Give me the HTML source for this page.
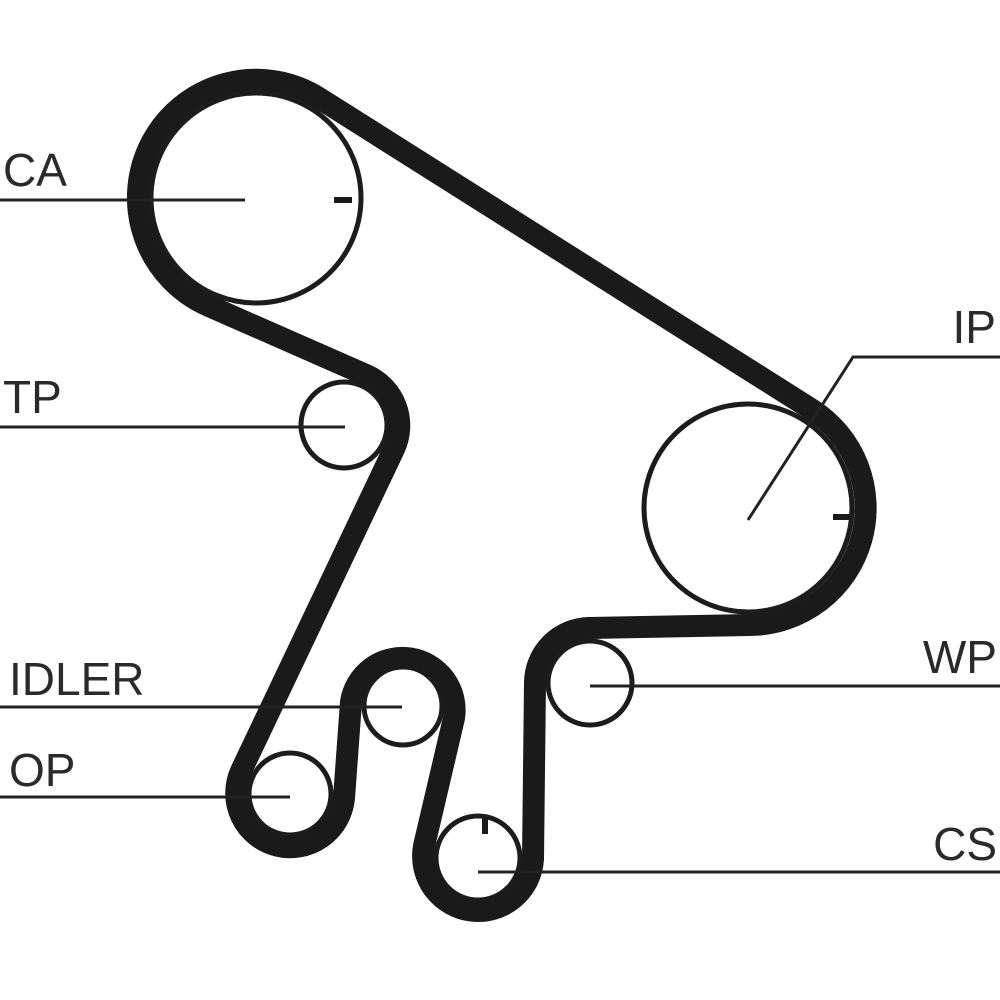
<!DOCTYPE html>
<html><head><meta charset="utf-8"><style>
html,body{margin:0;padding:0;background:#fff;}
svg{display:block;}
text{font-family:"Liberation Sans",sans-serif;font-size:46px;fill:#2a2a2a;}
</style></head><body>
<svg width="1000" height="1000" viewBox="0 0 1000 1000" xmlns="http://www.w3.org/2000/svg">
<g fill="none" stroke="#1c1c1c" stroke-width="5">
<circle cx="256" cy="198" r="105"/>
<circle cx="748" cy="508" r="104"/>
<circle cx="590" cy="683" r="42"/>
<circle cx="478" cy="858" r="42"/>
<circle cx="403" cy="706" r="39"/>
<circle cx="290" cy="794" r="41"/>
<circle cx="344" cy="425" r="43"/>
</g>
<path d="M209,306 A118,118 0 1 1 319,98 L811,409 A117,117 0 0 1 750,625 L589,628 A55,55 0 0 0 535,682 L533,859 A55,55 0 1 1 424,846 L454,718 A52,52 0 1 0 351,702 L344,798 A54,54 0 1 1 241,771 L394,449 A55,55 0 0 0 366,375 Z" fill="none" stroke="#1a1a1a" stroke-width="22" stroke-linejoin="round"/>
<g stroke="#1a1a1a" stroke-width="6">
<line x1="334" y1="200" x2="352" y2="200"/>
<line x1="833" y1="517" x2="850" y2="517"/>
<line x1="485" y1="818" x2="485" y2="834"/>
</g>
<g stroke="#222" stroke-width="3" fill="none">
<line x1="0" y1="200" x2="245" y2="200"/>
<line x1="0" y1="427" x2="345" y2="427"/>
<line x1="0" y1="707" x2="402" y2="707"/>
<line x1="0" y1="797" x2="290" y2="797"/>
<polyline points="1000,357 853,357 748,520"/>
<line x1="590" y1="686" x2="1000" y2="686"/>
<line x1="478" y1="872" x2="1000" y2="872"/>
</g>
<text x="3" y="186">CA</text>
<text x="3" y="413">TP</text>
<text x="9" y="695">IDLER</text>
<text x="9" y="786">OP</text>
<text x="996" y="343" text-anchor="end">IP</text>
<text x="997" y="673" text-anchor="end">WP</text>
<text x="997" y="860" text-anchor="end">CS</text>
</svg>
</body></html>
